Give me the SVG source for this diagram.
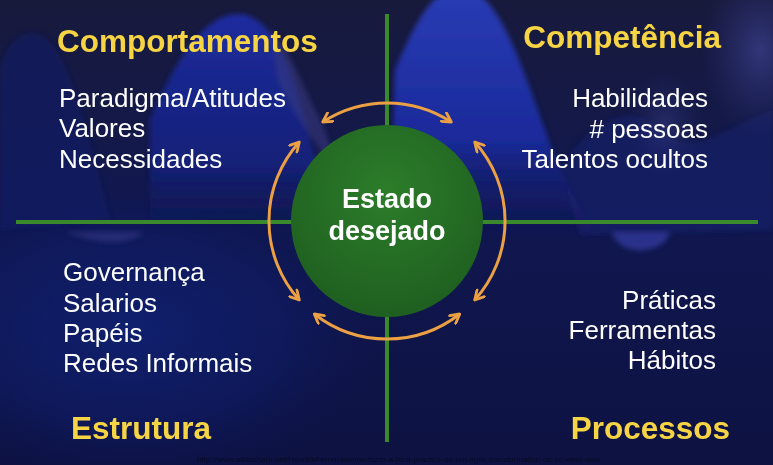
<svg xmlns="http://www.w3.org/2000/svg" width="773" height="465" viewBox="0 0 773 465">
  <defs>
    <linearGradient id="bg" x1="0" y1="0" x2="0" y2="1">
      <stop offset="0" stop-color="#181a3c"/>
      <stop offset="0.45" stop-color="#111850"/>
      <stop offset="1" stop-color="#0d1242"/>
    </linearGradient>
    <linearGradient id="peakC" x1="0" y1="0" x2="0" y2="1">
      <stop offset="0" stop-color="#2a3cb4"/>
      <stop offset="0.6" stop-color="#1a2a9a"/>
      <stop offset="1" stop-color="#0f1a6e" stop-opacity="0"/>
    </linearGradient>
    <linearGradient id="peakL" x1="0" y1="0" x2="0" y2="1">
      <stop offset="0" stop-color="#1d2c9e"/>
      <stop offset="0.7" stop-color="#142077"/>
      <stop offset="1" stop-color="#101a60" stop-opacity="0"/>
    </linearGradient>
    <radialGradient id="bl" cx="130" cy="330" r="260" gradientUnits="userSpaceOnUse" gradientTransform="translate(130 330) scale(1 0.6) translate(-130 -330)">
      <stop offset="0" stop-color="#10206e"/>
      <stop offset="0.6" stop-color="#0f1b62" stop-opacity="0.7"/>
      <stop offset="1" stop-color="#0d1450" stop-opacity="0"/>
    </radialGradient>
    <radialGradient id="tr" cx="0.5" cy="0.5" r="0.5">
      <stop offset="0" stop-color="#3a3e88" stop-opacity="0.8"/>
      <stop offset="1" stop-color="#2a2e70" stop-opacity="0"/>
    </radialGradient>
    <radialGradient id="circ" cx="0.5" cy="0.35" r="0.65">
      <stop offset="0" stop-color="#2c7d2a"/>
      <stop offset="1" stop-color="#1f5f20"/>
    </radialGradient>
    <filter id="soft" x="-20%" y="-20%" width="140%" height="140%">
      <feGaussianBlur stdDeviation="2.5"/>
    </filter>
    <marker id="ah" viewBox="0 0 12 12" refX="10.5" refY="6" markerWidth="12" markerHeight="12" markerUnits="userSpaceOnUse" orient="auto-start-reverse">
      <path d="M1.5,1 L10.5,6 L1.5,11" fill="none" stroke="#eba043" stroke-width="2.8" stroke-linecap="round" stroke-linejoin="round"/>
    </marker>
    <style>
      .title { font-family: "Liberation Sans", Arial, sans-serif; font-weight: bold; font-size: 31.5px; fill: #f6d443; }
      .item { font-family: "Liberation Sans", Arial, sans-serif; font-size: 26px; fill: #ffffff; }
      .center { font-family: "Liberation Sans", Arial, sans-serif; font-weight: bold; font-size: 27px; fill: #ffffff; text-anchor: middle; }
      .axis { stroke: #3a8a2c; stroke-width: 4; fill: none; }
      .arc { stroke: #eba043; stroke-width: 3; fill: none; marker-start: url(#ah); marker-end: url(#ah); }
    </style>
  </defs>

  <!-- background -->
  <g id="background">
    <rect width="773" height="465" fill="url(#bg)"/>
    <rect x="0" y="200" width="420" height="265" fill="url(#bl)"/>
    <g filter="url(#soft)">
      <path d="M0,70 C8,35 30,25 48,40 C70,60 90,140 110,220 L0,230 Z" fill="#141d62" opacity="0.7"/>
      <path d="M150,120 C175,60 205,12 240,14 C270,16 290,60 305,120 C315,160 330,200 345,230 L150,230 Z" fill="url(#peakL)"/>
      <path d="M270,30 C285,40 300,80 315,110 C325,130 335,150 330,165 C315,140 290,110 278,80 Z" fill="#37397e" opacity="0.6"/>
      <path d="M395,70 C420,10 440,-20 470,-10 C500,0 520,60 545,130 C560,175 580,210 600,240 L390,240 Z" fill="url(#peakC)"/>
      <path d="M560,170 C590,120 630,100 660,130 C690,160 720,130 773,110 L773,230 L580,235 Z" fill="#1b2170" opacity="0.5"/>
      <path d="M65,232 C90,240 120,250 145,232 Z" fill="#2a2f7a" opacity="0.8"/>
      <path d="M612,232 C615,245 630,252 645,250 C660,248 668,240 670,232 Z" fill="#2b3592" opacity="0.9"/>
    </g>
    <ellipse cx="760" cy="50" rx="60" ry="90" fill="url(#tr)"/>
    <ellipse cx="665" cy="125" rx="40" ry="55" fill="url(#tr)" opacity="0.6"/>
  </g>

  <!-- connectors: axes and arrows -->
  <g id="connectors">
    <line class="axis" x1="387" y1="14" x2="387" y2="442"/>
    <line class="axis" x1="16" y1="222" x2="758" y2="222"/>
    <path class="arc" d="M322.7,122 A118,118 0 0 1 451.3,122"/>
    <path class="arc" d="M474.7,142 A118,118 0 0 1 474.7,300"/>
    <path class="arc" d="M459.7,314 A118,118 0 0 1 314.3,314"/>
    <path class="arc" d="M299.3,300 A118,118 0 0 1 299.3,142"/>
  </g>

  <!-- center node -->
  <g id="estado-desejado">
    <circle cx="387" cy="221" r="96" fill="url(#circ)"/>
    <text class="center" x="387" y="208">Estado</text>
    <text class="center" x="387" y="240">desejado</text>
  </g>

  <g id="comportamentos">
    <text class="title" x="57" y="52">Comportamentos</text>
    <text class="item" x="59" y="107">Paradigma/Atitudes</text>
    <text class="item" x="59" y="137">Valores</text>
    <text class="item" x="59" y="167.5">Necessidades</text>
  </g>

  <g id="competencia">
    <text class="title" x="721" y="48" text-anchor="end">Competência</text>
    <text class="item" x="708" y="107" text-anchor="end">Habilidades</text>
    <text class="item" x="708" y="137.5" text-anchor="end"># pessoas</text>
    <text class="item" x="708" y="167.5" text-anchor="end">Talentos ocultos</text>
  </g>

  <g id="estrutura">
    <text class="item" x="63" y="281">Governança</text>
    <text class="item" x="63" y="311.5">Salarios</text>
    <text class="item" x="63" y="342">Papéis</text>
    <text class="item" x="63" y="372">Redes Informais</text>
    <text class="title" x="71" y="439">Estrutura</text>
  </g>

  <g id="processos">
    <text class="item" x="716" y="308.5" text-anchor="end">Práticas</text>
    <text class="item" x="716" y="338.5" text-anchor="end">Ferramentas</text>
    <text class="item" x="716" y="369" text-anchor="end">Hábitos</text>
    <text class="title" x="730" y="439" text-anchor="end">Processos</text>
  </g>

  <g id="footer">
    <text x="197" y="462" font-family="Liberation Sans, Arial, sans-serif" font-size="8" fill="#070a22">http://www.slideshare.net/HendrikFerreira/como-fazer-a-best-practice-de-um-agile-transformation-ou-so-what-now</text>
  </g>
</svg>
